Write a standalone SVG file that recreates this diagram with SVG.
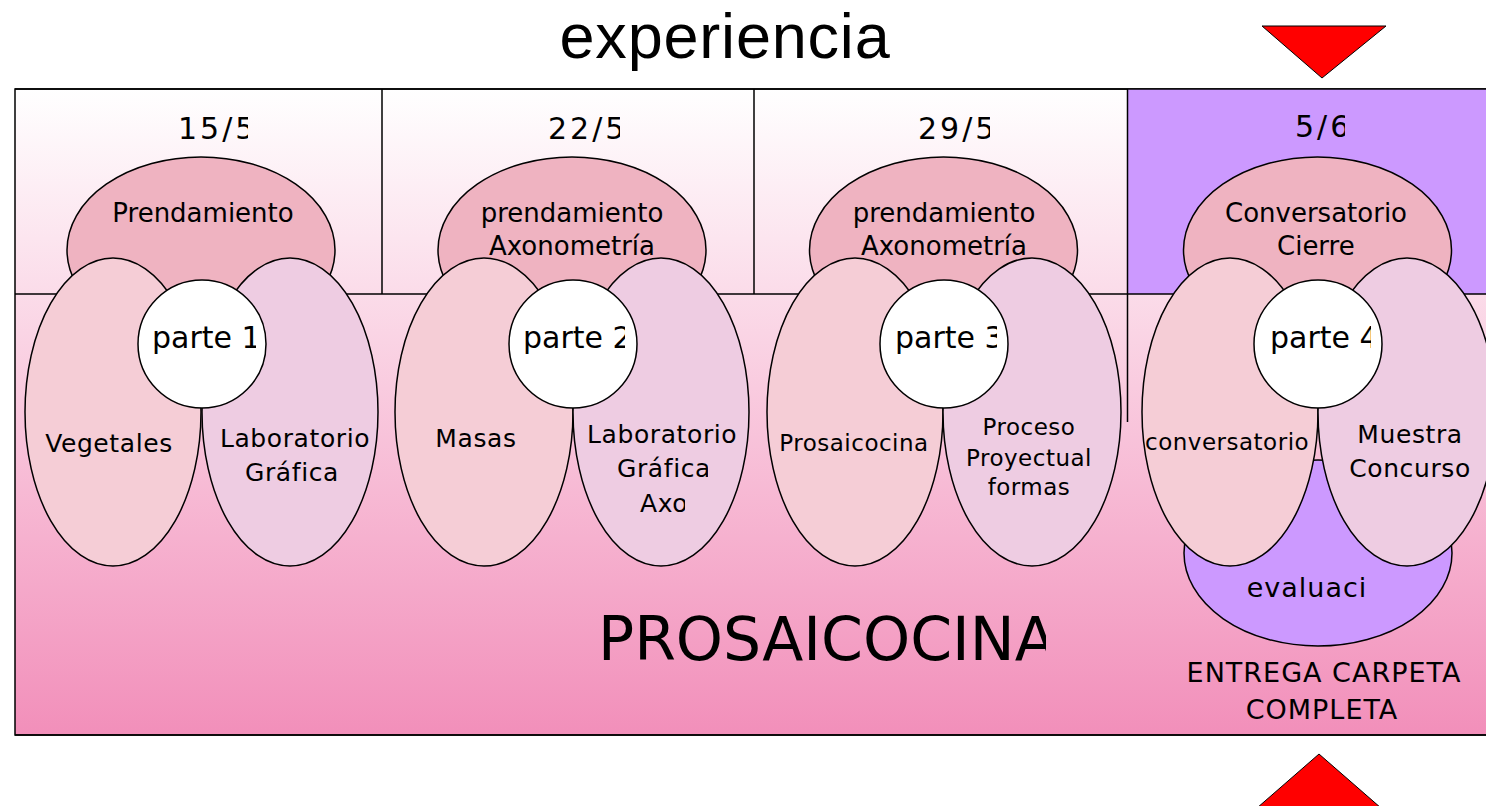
<svg xmlns="http://www.w3.org/2000/svg" width="1486" height="806" viewBox="0 0 1486 806">
<style>
.t{font-family:"DejaVu Sans","Liberation Sans",sans-serif;fill:#000;}
.ttl{font-family:"Liberation Sans",Arial,sans-serif;fill:#000;}
.ln{stroke:#000;stroke-width:1.5;fill:none;}
.bgfill{fill:url(#bg);stroke:#000;stroke-width:1.5;}
.e{stroke:#000;stroke-width:1.5;}
.top{fill:#efb3c1;}
.lft{fill:#f5cdd6;}
.rgt{fill:#eecce2;}
.cir{fill:#fff;}
.pur{fill:#cc99ff;}
.tri{fill:#ff0000;stroke:#000;stroke-width:1;}
.date{font-size:30px;letter-spacing:3px;}
.hd{font-size:26px;}
.pt{font-size:30px;}
.lb{font-size:25px;letter-spacing:0.6px;}
.sm{font-size:23px;letter-spacing:0.5px;}
</style>
<defs>
<linearGradient id="bg" gradientUnits="userSpaceOnUse" x1="0" y1="89" x2="0" y2="735">
<stop offset="0" stop-color="#ffffff"/>
<stop offset="1" stop-color="#f28fba"/>
</linearGradient>
<clipPath id="c15"><rect x="0" y="90" width="248" height="80"/></clipPath>
<clipPath id="c22"><rect x="383" y="90" width="237" height="80"/></clipPath>
<clipPath id="c29"><rect x="755" y="90" width="235" height="80"/></clipPath>
<clipPath id="c56"><rect x="1129" y="90" width="216" height="80"/></clipPath>
<clipPath id="cp1"><rect x="0" y="300" width="256" height="80"/></clipPath>
<clipPath id="cp2"><rect x="383" y="300" width="242" height="80"/></clipPath>
<clipPath id="cp3"><rect x="755" y="300" width="242" height="80"/></clipPath>
<clipPath id="cp4"><rect x="1129" y="300" width="242" height="80"/></clipPath>
<clipPath id="cg1"><rect x="0" y="450" width="338" height="50"/></clipPath>
<clipPath id="cl2"><rect x="383" y="410" width="360" height="45"/></clipPath>
<clipPath id="cg2"><rect x="383" y="450" width="325" height="40"/></clipPath>
<clipPath id="ca2"><rect x="383" y="485" width="302" height="40"/></clipPath>
<clipPath id="cc4"><rect x="1129" y="190" width="284" height="40"/></clipPath>
<clipPath id="ci4"><rect x="1129" y="228" width="232" height="40"/></clipPath>
<clipPath id="cv4"><rect x="1129" y="420" width="179" height="45"/></clipPath>
<clipPath id="cpr"><rect x="0" y="590" width="1046" height="90"/></clipPath>
</defs>

<g id="frame">
<rect x="15" y="89" width="1480" height="646" class="bgfill"/>
<rect x="1128" y="89" width="360" height="205" class="pur"/>
<line x1="15" y1="89" x2="1486" y2="89" class="ln"/>
<line x1="15" y1="294" x2="1486" y2="294" class="ln"/>
<line x1="382" y1="89" x2="382" y2="294" class="ln"/>
<line x1="754" y1="89" x2="754" y2="294" class="ln"/>
<line x1="1127.5" y1="89" x2="1127.5" y2="422" class="ln"/>
<line x1="15" y1="735" x2="1486" y2="735" class="ln"/>
</g>

<g id="title">
<text x="725" y="58" class="ttl" font-size="63" letter-spacing="0.8" text-anchor="middle">experiencia</text>
</g>

<g id="arrow-top"><polygon points="1262,26 1386,26 1322,78" class="tri"/></g>
<g id="arrow-bottom"><polygon points="1257,808 1319,754 1381,808" class="tri"/></g>

<g id="dates">
<text x="178" y="139" class="t date" clip-path="url(#c15)">15/5</text>
<text x="548" y="139" class="t date" clip-path="url(#c22)">22/5</text>
<text x="918" y="139" class="t date" clip-path="url(#c29)">29/5</text>
<text x="1295" y="137" class="t date" clip-path="url(#c56)">5/6</text>
</g>

<g id="parte1">
<ellipse cx="201" cy="250" rx="134" ry="93" class="e top"/>
<ellipse cx="113" cy="412" rx="88" ry="154" class="e lft"/>
<ellipse cx="290" cy="412" rx="88" ry="154" class="e rgt"/>
<circle cx="202" cy="344" r="64" class="e cir"/>
<text x="203" y="222" class="t hd" text-anchor="middle">Prendamiento</text>
<text x="152" y="348" class="t pt" clip-path="url(#cp1)">parte 1</text>
<text x="109" y="452" class="t lb" text-anchor="middle">Vegetales</text>
<text x="295" y="447" class="t lb" text-anchor="middle">Laboratorio</text>
<text x="245" y="481" class="t lb" clip-path="url(#cg1)">Gráfica</text>
</g>

<g id="parte2">
<ellipse cx="572" cy="250" rx="134" ry="93" class="e top"/>
<ellipse cx="484" cy="412" rx="89" ry="154" class="e lft"/>
<ellipse cx="661" cy="412" rx="88" ry="154" class="e rgt"/>
<circle cx="573" cy="344" r="64" class="e cir"/>
<text x="572" y="222" class="t hd" text-anchor="middle">prendamiento</text>
<text x="572" y="255" class="t hd" text-anchor="middle">Axonometría</text>
<text x="523" y="348" class="t pt" clip-path="url(#cp2)">parte 2</text>
<text x="476" y="447" class="t lb" text-anchor="middle">Masas</text>
<text x="587" y="443" class="t lb" clip-path="url(#cl2)">Laboratorio</text>
<text x="617" y="477" class="t lb" clip-path="url(#cg2)">Gráfica</text>
<text x="640" y="512" class="t lb" clip-path="url(#ca2)">Axo</text>
</g>

<g id="parte3">
<ellipse cx="943.5" cy="250" rx="134" ry="93" class="e top"/>
<ellipse cx="855" cy="412" rx="88" ry="154" class="e lft"/>
<ellipse cx="1032" cy="412" rx="89" ry="154" class="e rgt"/>
<circle cx="944" cy="344" r="64" class="e cir"/>
<text x="944" y="222" class="t hd" text-anchor="middle">prendamiento</text>
<text x="944" y="255" class="t hd" text-anchor="middle">Axonometría</text>
<text x="895" y="348" class="t pt" clip-path="url(#cp3)">parte 3</text>
<text x="854" y="451" class="t sm" text-anchor="middle">Prosaicocina</text>
<text x="1029" y="435" class="t sm" text-anchor="middle">Proceso</text>
<text x="1029" y="466" class="t sm" text-anchor="middle">Proyectual</text>
<text x="1029" y="495" class="t sm" text-anchor="middle">formas</text>
</g>

<g id="parte4">
<ellipse cx="1317.5" cy="250" rx="134" ry="93" class="e top"/>
<ellipse cx="1318" cy="553" rx="134" ry="93" class="e pur"/>
<ellipse cx="1230" cy="412" rx="88" ry="154" class="e lft"/>
<ellipse cx="1407" cy="412" rx="89" ry="154" class="e rgt"/>
<circle cx="1318" cy="344" r="64" class="e cir"/>
<text x="1225" y="222" class="t hd" clip-path="url(#cc4)">Conversatorio</text>
<text x="1277" y="255" class="t hd" clip-path="url(#ci4)">Cierre</text>
<text x="1270" y="348" class="t pt" clip-path="url(#cp4)">parte 4</text>
<text x="1145" y="450" class="t sm" clip-path="url(#cv4)">conversatorio</text>
<text x="1410" y="443" class="t lb" text-anchor="middle">Muestra</text>
<text x="1410" y="477" class="t lb" text-anchor="middle">Concurso</text>
<text x="1307" y="597" class="t" font-size="27" letter-spacing="1" text-anchor="middle">evaluaci</text>
</g>

<g id="labels">
<text x="598" y="660" class="t" font-size="60" clip-path="url(#cpr)">PROSAICOCINA</text>
<text x="1324" y="682" class="t" font-size="27" letter-spacing="1" text-anchor="middle">ENTREGA CARPETA</text>
<text x="1322" y="719" class="t" font-size="27" letter-spacing="1" text-anchor="middle">COMPLETA</text>
</g>
<g id="connectors"/>
</svg>
